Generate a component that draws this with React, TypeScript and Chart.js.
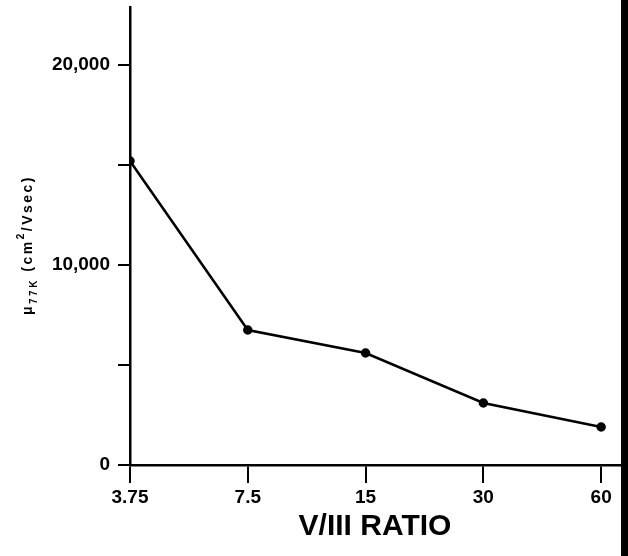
import React, { useEffect, useRef } from "react";
import { Chart, registerables } from "chart.js";

Chart.register(...registerables);

// ---- data ----
const ratioLabels = ["3.75", "7.5", "15", "30", "60"];
const ratioIndex = [0, 1, 2, 3, 4];
const mobility77K = [15200, 6750, 5600, 3100, 1900];
const yTickValues = [0, 5000, 10000, 15000, 20000];
const yLabeledTicks = [0, 10000, 20000];
const xTitle = "V/III RATIO";
const yTitleParts = [
  { text: "μ", kind: "main" },
  { text: "77K", kind: "sub" },
  { text: " (cm", kind: "main" },
  { text: "2", kind: "sup" },
  { text: "/Vsec)", kind: "main" },
];

const FAMILY = "'Liberation Sans', Arial, sans-serif";

const yTitlePlugin = {
  id: "yTitleRich",
  afterDraw(chart: any) {
    const ctx = chart.ctx as CanvasRenderingContext2D;
    ctx.save();
    ctx.translate(32, 245);
    ctx.rotate(-Math.PI / 2);
    ctx.fillStyle = "#000";
    ctx.textBaseline = "alphabetic";
    ctx.textAlign = "left";
    (ctx as any).letterSpacing = "2.5px";
    const fontFor = (k: string) =>
      k === "main" ? `bold 14px ${FAMILY}` : `bold 10px ${FAMILY}`;
    const offFor = (k: string) => (k === "sub" ? 5 : k === "sup" ? -8 : 0);
    let total = 0;
    for (const p of yTitleParts) {
      ctx.font = fontFor(p.kind);
      total += ctx.measureText(p.text).width;
    }
    let x = -total / 2;
    for (const p of yTitleParts) {
      ctx.font = fontFor(p.kind);
      ctx.fillText(p.text, x, offFor(p.kind));
      x += ctx.measureText(p.text).width;
    }
    ctx.restore();
  },
};

export default function App() {
  const ref = useRef<HTMLCanvasElement | null>(null);

  useEffect(() => {
    if (!ref.current) return;
    const chart = new Chart(ref.current, {
      type: "line",
      data: {
        datasets: [
          {
            data: ratioIndex.map((x, i) => ({ x, y: mobility77K[i] })),
            borderColor: "#000",
            backgroundColor: "#000",
            borderWidth: 2.5,
            pointRadius: 3.5,
            pointBackgroundColor: "#000",
            pointBorderColor: "#000",
            tension: 0,
            fill: false,
          },
        ],
      },
      options: {
        animation: false,
        responsive: false,
        devicePixelRatio: 1,
        layout: { padding: { top: 7, right: 8, left: 0, bottom: 0 } },
        plugins: { legend: { display: false }, tooltip: { enabled: false } },
        scales: {
          x: {
            type: "linear",
            min: 0,
            max: 4.16,
            afterBuildTicks: (s: any) => {
              s.ticks = ratioIndex.map((v) => ({ value: v }));
            },
            afterFit: (s: any) => {
              s.height = 91;
              s.paddingLeft = 0;
              s.paddingRight = 0;
            },
            ticks: {
              callback: (v: any) => ratioLabels[v] ?? "",
              font: { family: FAMILY, size: 19, weight: "bold" },
              color: "#000",
              padding: 3,
              maxRotation: 0,
              autoSkip: false,
            },
            grid: {
              drawOnChartArea: false,
              drawTicks: true,
              tickLength: 18,
              color: "#000",
              lineWidth: 2,
            },
            border: { display: true, color: "#000", width: 2.5 },
            title: {
              display: true,
              text: xTitle,
              color: "#000",
              font: { family: FAMILY, size: 30, weight: "bold" },
              padding: { top: 0, bottom: 11 },
            },
          },
          y: {
            type: "linear",
            min: 0,
            max: 22900,
            afterBuildTicks: (s: any) => {
              s.ticks = yTickValues.map((v) => ({ value: v }));
            },
            afterFit: (s: any) => {
              s.width = 130;
              s.paddingTop = 0;
              s.paddingBottom = 0;
            },
            ticks: {
              callback: (v: any) =>
                yLabeledTicks.includes(v) ? Number(v).toLocaleString("en-US") : "",
              font: { family: FAMILY, size: 19, weight: "bold" },
              color: "#000",
              padding: 8,
              autoSkip: false,
            },
            grid: {
              drawOnChartArea: false,
              drawTicks: true,
              tickLength: 12,
              color: "#000",
              lineWidth: 2,
            },
            border: { display: true, color: "#000", width: 2.5 },
          },
        },
      },
      plugins: [yTitlePlugin],
    } as any);
    return () => chart.destroy();
  }, []);

  return (
    <div
      style={{
        position: "fixed",
        left: 0,
        top: 0,
        width: 628,
        height: 556,
        background: "#fff",
      }}
    >
      <canvas ref={ref} width={628} height={556} style={{ display: "block" }} />
      <div
        style={{
          position: "absolute",
          left: 621,
          top: 0,
          width: 7,
          height: 556,
          background: "#000",
        }}
      />
    </div>
  );
}
